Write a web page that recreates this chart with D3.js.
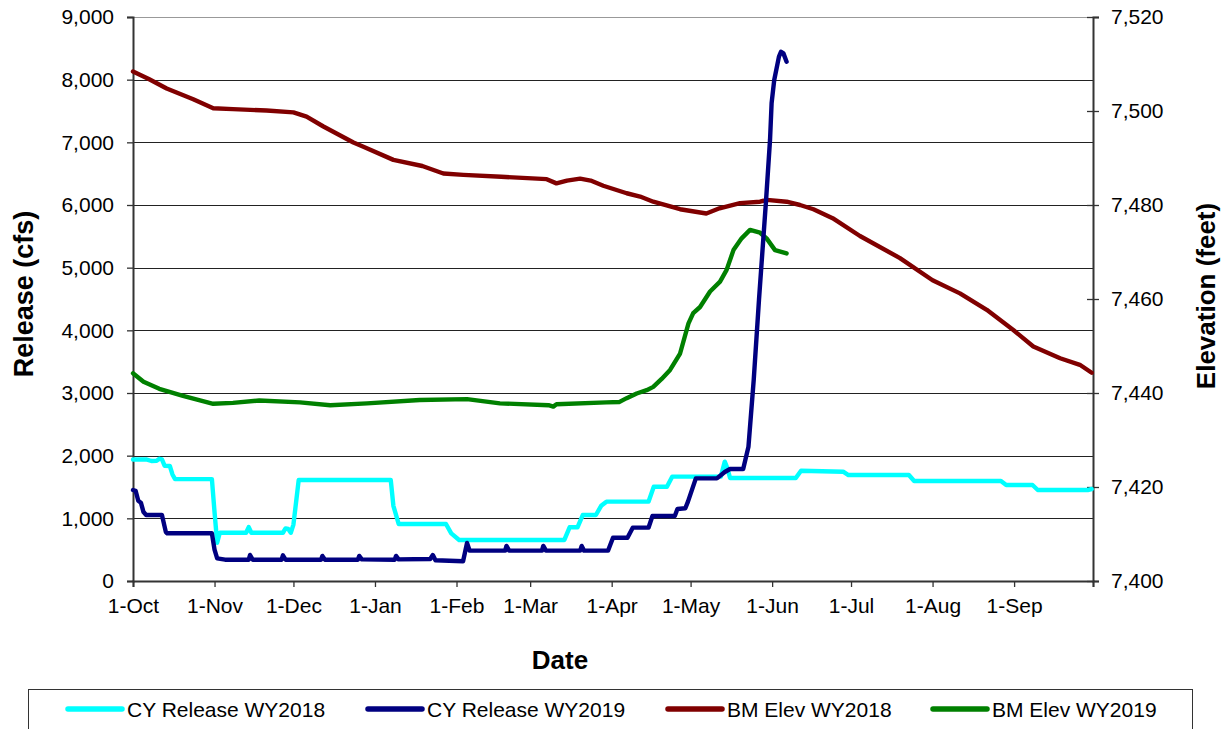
<!DOCTYPE html>
<html>
<head>
<meta charset="utf-8">
<script src="https://cdn.jsdelivr.net/npm/d3@7"></script>
<style>
  body { margin: 0; background: #fff; }
  svg { font-family: "Liberation Sans", Arial, sans-serif; }
</style>
</head>
<body>
<svg id="chart" width="1225" height="729"></svg>
<script>
// days counted from 1-Oct
const cyRelease2018 = [[0,1940],[5,1940],[7,1915],[9,1920],[10,1950],[11,1940],[12,1840],[14,1835],[15,1700],[16,1625],[30,1625],[31,1100],[32,610],[33,770],[43,770],[44,860],[45,770],[57,770],[58,840],[59,830],[60,770],[61,900],[63,1612],[98,1612],[99,1200],[101,910],[119,910],[121,760],[124,655],[164,655],[166,857],[169,857],[171,1053],[176,1053],[178,1200],[180,1266],[196,1266],[198,1505],[203,1505],[205,1665],[223.5,1665],[225,1904],[226,1800],[227,1643],[252,1643],[254,1760],[270,1744],[272,1691],[295,1691],[297,1596],[330,1596],[332,1532],[342,1532],[344,1452],[363,1452],[364.5,1468]]
const cyRelease2019 = [[0,1452],[1,1440],[2,1280],[3,1250],[4,1100],[5,1053],[11,1053],[12.5,780],[13,761],[30,761],[31,500],[32,362],[35,340],[44,340],[44.5,415],[45.5,340],[56.5,340],[57,410],[58,340],[71.5,340],[72,400],[73,340],[85.5,340],[86,400],[87,345],[99.5,340],[100,400],[101,345],[113,350],[114,415],[115,330],[125.5,315],[127,606],[128,484],[141.5,484],[142,560],[143,484],[155.5,484],[156,560],[157,484],[170,484],[170.6,560],[171.5,484],[180.6,484],[182.5,691],[188,691],[190,851],[196,851],[197.5,1037],[206,1037],[207,1149],[210,1160],[211,1266],[214,1638],[222,1638],[225,1740],[227,1787],[232,1787],[234,2143],[236,3207],[238,4484],[240.7,6080],[242.2,7037],[242.8,7623],[243.8,7995],[245.6,8367],[246.4,8446],[247.3,8420],[248.5,8287]]
const bmElev2018 = [[0,7508.4],[6,7506.8],[12.8,7504.8],[22.9,7502.5],[30.5,7500.6],[38,7500.4],[50.8,7500.1],[61,7499.7],[66,7498.8],[72.4,7496.7],[83.8,7493.3],[87.6,7492.4],[99,7489.6],[110,7488.3],[118,7486.7],[125.6,7486.4],[140,7486],[157.3,7485.5],[161,7484.6],[165,7485.2],[170,7485.6],[174,7485.2],[178.8,7484.1],[187.7,7482.5],[192.8,7481.8],[197.8,7480.7],[208,7479.1],[218,7478.2],[223,7479.3],[230.8,7480.4],[238.4,7480.7],[241,7481.1],[248.5,7480.7],[253.6,7480],[258.7,7479.1],[266,7477.2],[276.4,7473.4],[291.6,7468.7],[304,7464],[314.4,7461.2],[324.6,7457.7],[334.7,7453.4],[342.3,7449.9],[352.5,7447.4],[360,7446],[364.5,7444.3]]
const bmElev2019 = [[0,7444.2],[4,7442.4],[10,7440.9],[19,7439.4],[30.5,7437.7],[38,7437.9],[48,7438.4],[63.5,7438],[75,7437.4],[89,7437.8],[109,7438.5],[127,7438.7],[139.5,7437.8],[158,7437.4],[159.8,7437.1],[161,7437.6],[180,7438],[185,7438.1],[187.7,7438.9],[191.5,7439.9],[195.3,7440.6],[197.8,7441.3],[201,7443],[204.2,7444.9],[208,7448.4],[211.2,7454.8],[213,7457],[215.6,7458.3],[219.4,7461.6],[223.2,7463.7],[225.7,7466.2],[228.3,7470.4],[231.4,7472.9],[234.6,7474.7],[238.4,7474.1],[240.9,7472.9],[244.1,7470.4],[248.5,7469.7]]

const releaseTicks = [0, 1000, 2000, 3000, 4000, 5000, 6000, 7000, 8000, 9000]
const elevTicks = [7400, 7420, 7440, 7460, 7480, 7500, 7520]
const seriesNames = ['CY Release WY2018', 'CY Release WY2019', 'BM Elev WY2018', 'BM Elev WY2019']
const seriesColors = ['#00ffff', '#000080', '#800000', '#008000']

const startDate = new Date(2017, 9, 1)
const endDate = new Date(2018, 9, 1)
const toDate = d => new Date(startDate.getTime() + d * 864e5)

const plot = { left: 133, right: 1093, top: 17, bottom: 581 }

const svg = d3.select('#chart')

const x = d3.scaleTime().domain([startDate, endDate]).range([plot.left, plot.right])
const yRel = d3.scaleLinear().domain([0, 9000]).range([plot.bottom, plot.top])
const yElev = d3.scaleLinear().domain([7400, 7520]).range([plot.bottom, plot.top])

// gridlines
svg.append('g')
  .selectAll('line')
  .data(releaseTicks.slice(1))
  .enter()
  .append('line')
  .attr('x1', plot.left)
  .attr('x2', plot.right)
  .attr('y1', d => Math.round(yRel(d)) + 0.5)
  .attr('y2', d => Math.round(yRel(d)) + 0.5)
  .attr('stroke', d => (d === 9000 ? '#999' : '#222'))
  .attr('stroke-width', 1)

const fmt = d3.format(',')

/** Axes */
const styleAxis = g => {
  g.select('.domain').attr('stroke', '#333').attr('stroke-width', 2)
  g.selectAll('.tick line').attr('stroke', '#333').attr('stroke-width', 1.3)
  g.selectAll('.tick text').attr('font-size', 21).attr('fill', '#000')
  g.attr('font-family', null)
}

svg.append('g')
  .attr('transform', `translate(${plot.left},0)`)
  .call(d3.axisLeft(yRel).tickValues(releaseTicks).tickFormat(fmt).tickSizeOuter(0).tickSize(6).tickPadding(13))
  .call(styleAxis)

svg.append('g')
  .attr('transform', `translate(${plot.right},0)`)
  .call(d3.axisRight(yElev).tickValues(elevTicks).tickFormat(fmt).tickSizeOuter(0).tickSize(6).tickPadding(12))
  .call(styleAxis)
  .call(g => g.selectAll('.tick line').attr('x1', -6))

const monthTicks = d3.timeMonth.range(startDate, d3.timeDay.offset(endDate, 1))
const monthFmt = d3.timeFormat('%-d-%b')
svg.append('g')
  .attr('transform', `translate(0,${plot.bottom})`)
  .call(d3.axisBottom(x).tickValues(monthTicks)
    .tickFormat((d, i) => (i === monthTicks.length - 1 ? '' : monthFmt(d)))
    .tickSizeOuter(0).tickSize(6).tickPadding(11))
  .call(styleAxis)

/** Lines */
const relLine = d3.line().x(d => x(toDate(d[0]))).y(d => yRel(d[1]))
const elevLine = d3.line().x(d => x(toDate(d[0]))).y(d => yElev(d[1]))

const lines = [
  { data: cyRelease2018, gen: relLine },
  { data: cyRelease2019, gen: relLine },
  { data: bmElev2018, gen: elevLine },
  { data: bmElev2019, gen: elevLine }
]
// draw order: elevation first, release on top
const order = [2, 3, 0, 1]
order.forEach(i => {
  svg.append('path')
    .attr('d', lines[i].gen(lines[i].data))
    .attr('fill', 'none')
    .attr('stroke', seriesColors[i])
    .attr('stroke-width', 4.4)
    .attr('stroke-linejoin', 'round')
    .attr('stroke-linecap', 'round')
})

/** Titles */
svg.append('text')
  .attr('transform', 'translate(33,294) rotate(-90)')
  .attr('text-anchor', 'middle')
  .attr('font-size', 27)
  .attr('font-weight', 'bold')
  .text('Release (cfs)')

svg.append('text')
  .attr('transform', 'translate(1215,296) rotate(-90)')
  .attr('text-anchor', 'middle')
  .attr('font-size', 26)
  .attr('font-weight', 'bold')
  .text('Elevation (feet)')

svg.append('text')
  .attr('x', 560)
  .attr('y', 669)
  .attr('text-anchor', 'middle')
  .attr('font-size', 26)
  .attr('font-weight', 'bold')
  .text('Date')

/** Legend */
svg.append('rect')
  .attr('x', 28.5)
  .attr('y', 689.5)
  .attr('width', 1164)
  .attr('height', 50)
  .attr('fill', 'none')
  .attr('stroke', '#333')
  .attr('stroke-width', 1)

const legendX = [68, 368, 668, 933]
const item = svg.selectAll('.legend-item')
  .data(seriesNames)
  .enter()
  .append('g')
  .attr('class', 'legend-item')
  .attr('transform', (d, i) => `translate(${legendX[i]},709)`)

item.append('line')
  .attr('x1', 0)
  .attr('x2', 54)
  .attr('stroke', (d, i) => seriesColors[i])
  .attr('stroke-width', 5.5)
  .attr('stroke-linecap', 'round')

item.append('text')
  .attr('x', 59)
  .attr('y', 7.5)
  .attr('font-size', 21)
  .text(d => d)
</script>
</body>
</html>
